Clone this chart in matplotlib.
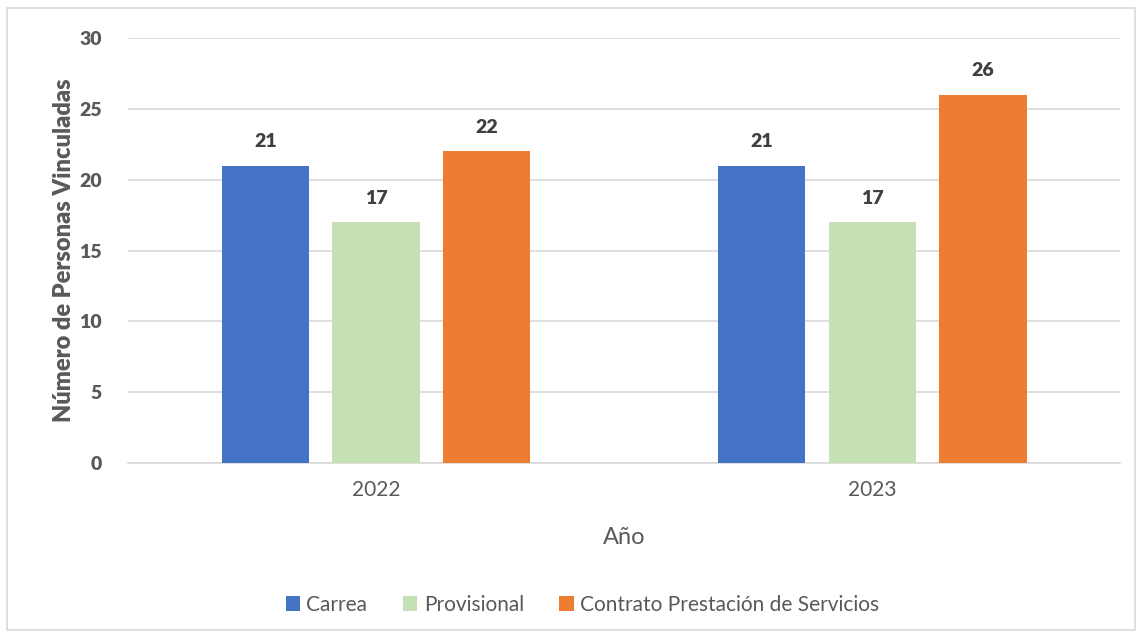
import numpy as np
import matplotlib.pyplot as plt
from matplotlib.patches import Rectangle

plt.rcParams['font.family'] = ['Lato', 'DejaVu Sans']

# Data
years = ['2022', '2023']
series = ['Carrea', 'Provisional', 'Contrato Prestación de Servicios']
carrea = [21, 21]
provisional = [17, 17]
contrato = [22, 26]
colors = ['#4472C4', '#C5E0B4', '#ED7D31']

fig = plt.figure(figsize=(11.42, 6.36), dpi=100)
ax = fig.add_axes([0.112, 0.272, 0.869, 0.668])

# Outer chart border
fig.patches.append(Rectangle((0.006, 0.01), 0.988, 0.977, transform=fig.transFigure,
                             fill=False, edgecolor='#D9D9D9', linewidth=1.2))

x = np.arange(len(years))
width = 0.176
step = 0.223
text_col = '#595959'

for i, (vals, col, name) in enumerate(zip([carrea, provisional, contrato], colors, series)):
    pos = x + (i - 1) * step
    ax.bar(pos, vals, width=width, color=col, label=name, zorder=3)
    for xp, v in zip(pos, vals):
        ax.text(xp, v + 1.1, f'{v}', ha='center', va='bottom', fontsize=14,
                fontweight='heavy', color='#404040')

ax.set_xlim(-0.5, 1.5)
ax.set_ylim(0, 30)
ax.set_yticks(range(0, 31, 5))
ax.set_xticks(x)
ax.set_xticklabels(years)
ax.grid(axis='y', color='#D9D9D9', linewidth=1.2, zorder=0)
for s in ['top', 'right', 'left']:
    ax.spines[s].set_visible(False)
ax.spines['bottom'].set_color('#D9D9D9')
ax.spines['bottom'].set_linewidth(1.2)
ax.tick_params(axis='both', length=0)
ax.tick_params(axis='y', labelsize=14, labelcolor=text_col, pad=19)
ax.tick_params(axis='x', labelsize=15, labelcolor=text_col, pad=12)
for lbl in ax.get_yticklabels():
    lbl.set_fontweight('heavy')

ax.set_ylabel('Número de Personas Vinculadas', fontsize=17, fontweight='heavy',
              color=text_col, labelpad=3)
ax.set_xlabel('Año', fontsize=17, color=text_col, labelpad=20)

leg = fig.legend(loc='center', bbox_to_anchor=(0.51, 0.049), ncol=3, frameon=False,
                 fontsize=15, handlelength=0.7, handleheight=0.7, handletextpad=0.3,
                 columnspacing=1.7)
for t in leg.get_texts():
    t.set_color(text_col)

fig.savefig('out.png', dpi=100)
